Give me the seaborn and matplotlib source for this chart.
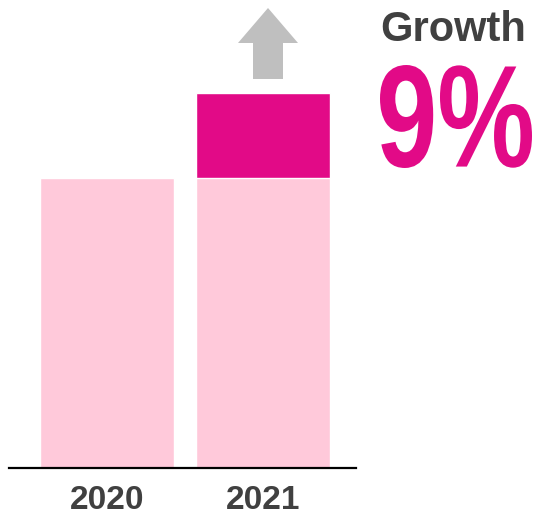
import matplotlib
matplotlib.use('Agg')
import matplotlib.pyplot as plt
import seaborn as sns
from matplotlib.patches import Polygon, PathPatch
from matplotlib.textpath import TextPath
from matplotlib.font_manager import FontProperties
from matplotlib.transforms import Affine2D

years = ['2020', '2021']
base_values = [100, 100]
total_values = [100, 109]
growth_label = 'Growth'
growth_pct = '9%'

light_pink = '#FFC9DA'
dark_pink = '#E20A87'
text_grey = '#404040'

sns.set_style('white')
plt.rcParams['font.family'] = ['Liberation Sans', 'DejaVu Sans']

W, H = 534, 515
fig = plt.figure(figsize=(W / 100, H / 100), dpi=100)
ax = fig.add_axes([9 / W, 47 / H, 347 / W, 468 / H])

# total (dark on top) first, then the 2020 level over it
sns.barplot(x=years, y=total_values, hue=years, palette=[light_pink, dark_pink],
            width=0.862, legend=False, ax=ax, saturation=1)
sns.barplot(x=years, y=base_values, color=light_pink, width=0.862,
            ax=ax, saturation=1)

ax.set_xlim(-0.63, 1.60)
ax.set_ylim(69.33, 118.9)
ax.set_yticks([])
ax.set_ylabel('')
sns.despine(ax=ax, left=True)
ax.spines['bottom'].set_color('black')
ax.spines['bottom'].set_linewidth(1.6)
ax.tick_params(axis='x', length=0, pad=12)
for lbl in ax.get_xticklabels():
    lbl.set_fontsize(24)
    lbl.set_fontweight('bold')
    lbl.set_color(text_grey)

# grey up arrow above the 2021 bar
arrow_px = [(268, 8), (298, 43), (283, 43), (283, 79), (253, 79), (253, 43), (238, 43)]
arrow = Polygon([(x / W, 1 - y / H) for x, y in arrow_px], closed=True,
                transform=fig.transFigure, facecolor='#BFBFBF', edgecolor='none')
fig.patches.append(arrow)

fig.text(380 / W, 1 - 41 / H, growth_label, fontsize=30, fontweight='bold',
         color=text_grey, ha='left', va='baseline')

# big condensed percentage: squeeze a bold glyph path into its box
tp = TextPath((0, 0), growth_pct, size=100,
              prop=FontProperties(family='Liberation Sans', weight='bold'))
ext = tp.get_extents()
x0, x1, y_top, y_bot = 380, 532, 65, 168
sx = (x1 - x0) / W / ext.width
sy = (y_bot - y_top) / H / ext.height
tr = (Affine2D().translate(-ext.x0, -ext.y0).scale(sx, sy)
      .translate(x0 / W, 1 - y_bot / H))
pct = PathPatch(tr.transform_path(tp), transform=fig.transFigure,
                facecolor=dark_pink, edgecolor='none')
fig.patches.append(pct)

fig.savefig('out.png', dpi=100)
